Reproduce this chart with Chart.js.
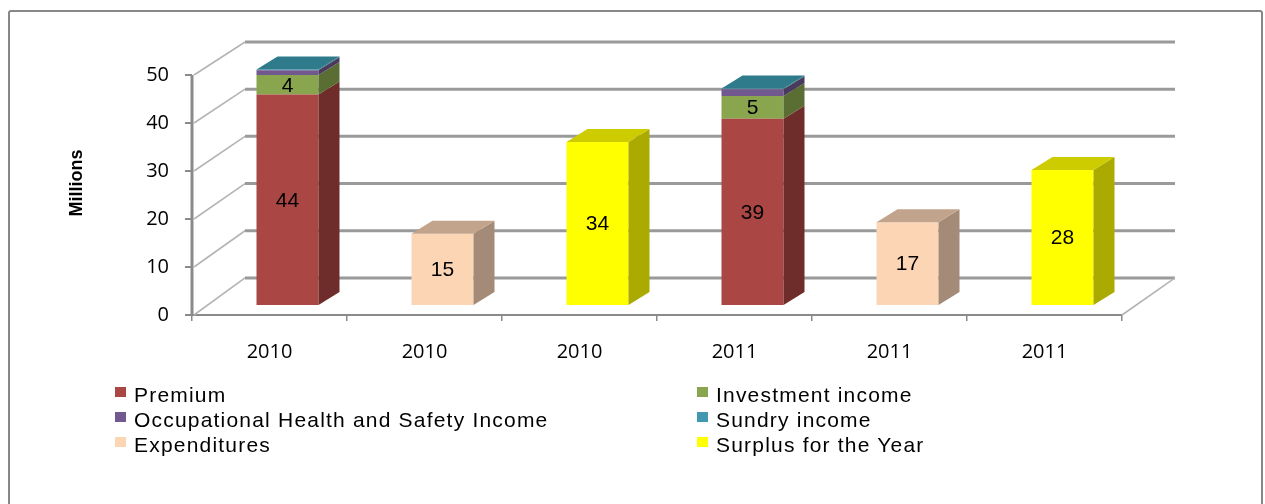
<!DOCTYPE html>
<html><head><meta charset="utf-8">
<script src="https://cdn.jsdelivr.net/npm/chart.js@4.4.1/dist/chart.umd.min.js"></script>
<style>
html,body{margin:0;padding:0;background:#fff;}
#wrap{position:relative;width:1265px;height:504px;overflow:hidden;}
#frame{position:absolute;left:8px;top:10px;width:1251px;height:520px;border:2px solid #878787;border-radius:3px;}
canvas{position:absolute;left:0;top:0;}
.leg{position:absolute;font-family:"Liberation Sans",Arial,sans-serif;font-size:21px;letter-spacing:1.2px;line-height:22px;color:#000;white-space:nowrap;height:22px;}
.leg i{position:absolute;left:0;top:3px;width:11px;height:10px;}
.leg span{position:absolute;left:19px;top:0;}
</style></head>
<body><div id="wrap"><div id="frame"></div><canvas id="c" width="1265" height="504"></canvas><div id="legend"></div></div>
<script>
// ---- data ----
const categories   = ['2010', '2010', '2010', '2011', '2011', '2011'];
const premium      = [44.3, 0, 0, 39.2, 0, 0];
const investment   = [4.1, 0, 0, 4.8, 0, 0];
const ohsIncome    = [1.0, 0, 0, 1.4, 0, 0];
const sundryIncome = [0.2, 0, 0, 0.2, 0, 0];
const expenditures = [0, 15.0, 0, 0, 17.4, 0];
const surplus      = [0, 0, 34.3, 0, 0, 28.4];
const yTicks       = [0, 10, 20, 30, 40, 50];
const seriesNames  = ['Premium', 'Investment income', 'Occupational Health and Safety Income', 'Sundry income', 'Expenditures', 'Surplus for the Year'];
const seriesValues = [premium, investment, ohsIncome, sundryIncome, expenditures, surplus];
const showLabel    = [true, true, false, false, true, true];

// ---- styles ----
const frontColors = ['#AA4643', '#89A54E', '#71588F', '#4198AF', '#FCD5B5', '#FFFF00'];
const sideColors  = ['#6E2C2B', '#5A6E33', '#4A3A5E', '#2A6473', '#A48B78', '#AAAA00'];
const topColors   = ['#8A3836', '#71893F', '#5C4875', '#2F7B8C', '#C2A48C', '#CCCC00'];
const DEPTH_X = 21, DEPTH_Y = -13;   // bar depth (oblique projection)
const PLANE_X = 18;                  // bar plane shift behind front plane
const WALL_X = 53, WALL_Y = -33, WALL_SCALE = 0.983; // back wall projection

function line(ctx, x1, y1, x2, y2){ ctx.beginPath(); ctx.moveTo(x1, y1); ctx.lineTo(x2, y2); ctx.stroke(); }
function poly(ctx, pts, color){ ctx.fillStyle = color; ctx.beginPath(); ctx.moveTo(pts[0][0], pts[0][1]); for (let i = 1; i < pts.length; i++) ctx.lineTo(pts[i][0], pts[i][1]); ctx.closePath(); ctx.fill(); }

const depth3d = {
  id: 'depth3d',
  beforeDatasetsDraw(chart){
    const {ctx, chartArea: ca, scales: {y}} = chart;
    const top50 = y.getPixelForValue(yTicks[yTicks.length - 1]);
    const backY = fy => top50 + WALL_Y + (fy - top50) * WALL_SCALE;
    ctx.save();
    ctx.lineCap = 'butt';
    yTicks.forEach(v => {
      const fy = y.getPixelForValue(v), by = backY(fy);
      ctx.strokeStyle = '#b4b4b4'; ctx.lineWidth = 1.6;
      line(ctx, ca.left + 2, fy, ca.left + WALL_X, by);
      ctx.strokeStyle = '#9a9a9a'; ctx.lineWidth = 3;
      line(ctx, ca.left + WALL_X, by, ca.right + WALL_X, by);
    });
    const f0 = y.getPixelForValue(0);
    ctx.strokeStyle = '#b4b4b4'; ctx.lineWidth = 1.6;
    line(ctx, ca.right, f0, ca.right + WALL_X, backY(f0));
    ctx.strokeStyle = '#8a8a8a'; ctx.lineWidth = 3;
    line(ctx, ca.left, top50, ca.left, f0 + 1);
    ctx.restore();
    ctx.save();
    ctx.translate(PLANE_X, 0);
  },
  afterDatasetsDraw(chart){
    const ctx = chart.ctx;
    const n = chart.data.labels.length;
    const topIdx = [];
    for (let j = 0; j < n; j++){
      topIdx[j] = -1;
      chart.data.datasets.forEach((ds, i) => { if (ds.data[j]) topIdx[j] = i; });
    }
    chart.data.datasets.forEach((ds, i) => {
      const meta = chart.getDatasetMeta(i);
      meta.data.forEach((el, j) => {
        if (!ds.data[j]) return;
        const x1 = el.x - el.width / 2, x2 = el.x + el.width / 2;
        const t = el.y, b = el.base;
        poly(ctx, [[x2, t], [x2 + DEPTH_X, t + DEPTH_Y], [x2 + DEPTH_X, b + DEPTH_Y], [x2, b]], sideColors[i]);
        if (topIdx[j] === i){
          poly(ctx, [[x1, t], [x2, t], [x2 + DEPTH_X, t + DEPTH_Y], [x1 + DEPTH_X, t + DEPTH_Y]], topColors[i]);
        }
      });
    });
    ctx.fillStyle = '#000';
    ctx.font = '21px "Liberation Sans", Arial, sans-serif';
    ctx.textAlign = 'center'; ctx.textBaseline = 'middle';
    chart.data.datasets.forEach((ds, i) => {
      if (!showLabel[i]) return;
      chart.getDatasetMeta(i).data.forEach((el, j) => {
        if (!ds.data[j]) return;
        ctx.fillText(String(Math.round(ds.data[j])), el.x, (el.y + el.base) / 2 + 1);
      });
    });
    ctx.restore();
  }
};

const chart = new Chart(document.getElementById('c'), {
  type: 'bar',
  data: {
    labels: categories,
    datasets: seriesNames.map((name, i) => ({
      label: name,
      data: seriesValues[i],
      backgroundColor: frontColors[i],
      borderWidth: 0,
      yAxisID: 'yb',
      stack: 's',
      barPercentage: 0.4,
      categoryPercentage: 1.0
    }))
  },
  options: {
    responsive: false,
    animation: false,
    layout: {padding: {left: 0, top: 51, right: 143, bottom: 129}},
    plugins: {legend: {display: false}, tooltip: {enabled: false}},
    scales: {
      x: {
        type: 'category', stacked: true, offset: true,
        grid: {display: true, drawOnChartArea: false, drawTicks: true, tickLength: 6, color: '#8a8a8a', lineWidth: 1.5, offset: true},
        border: {display: true, color: '#8a8a8a', width: 2},
        ticks: {color: '#000', font: {family: 'Open Sans', size: 20}, padding: 19, maxRotation: 0, autoSkip: false},
        afterFit: s => { s.height = 60; }
      },
      y: {
        type: 'linear', position: 'left', min: 0, max: 55,
        afterBuildTicks: s => { s.ticks = yTicks.map(v => ({value: v})); },
        grid: {drawOnChartArea: false, drawTicks: true, tickLength: 7, color: '#8a8a8a', lineWidth: 2},
        border: {display: false},
        ticks: {color: '#000', font: {family: 'Open Sans', size: 20}, padding: 16},
        title: {display: true, text: 'Millions', color: '#000', font: {family: 'Liberation Sans', size: 18, weight: 'bold'}, padding: {top: 66, bottom: 0}},
        afterFit: s => { s.width = 192; }
      },
      yb: {type: 'linear', display: false, stacked: true, min: -2.105, max: 53.47}
    }
  },
  plugins: [depth3d]
});

// HTML legend in two columns, generated from the chart's datasets
const legend = document.getElementById('legend');
chart.data.datasets.forEach((ds, k) => {
  const col = k % 2, row = Math.floor(k / 2);
  const d = document.createElement('div');
  d.className = 'leg';
  d.style.left = (col ? 697 : 115) + 'px';
  d.style.top = (384 + row * 25) + 'px';
  const sw = document.createElement('i'); sw.style.background = ds.backgroundColor;
  const tx = document.createElement('span'); tx.textContent = ds.label;
  d.appendChild(sw); d.appendChild(tx);
  legend.appendChild(d);
});
</script>
</body></html>
